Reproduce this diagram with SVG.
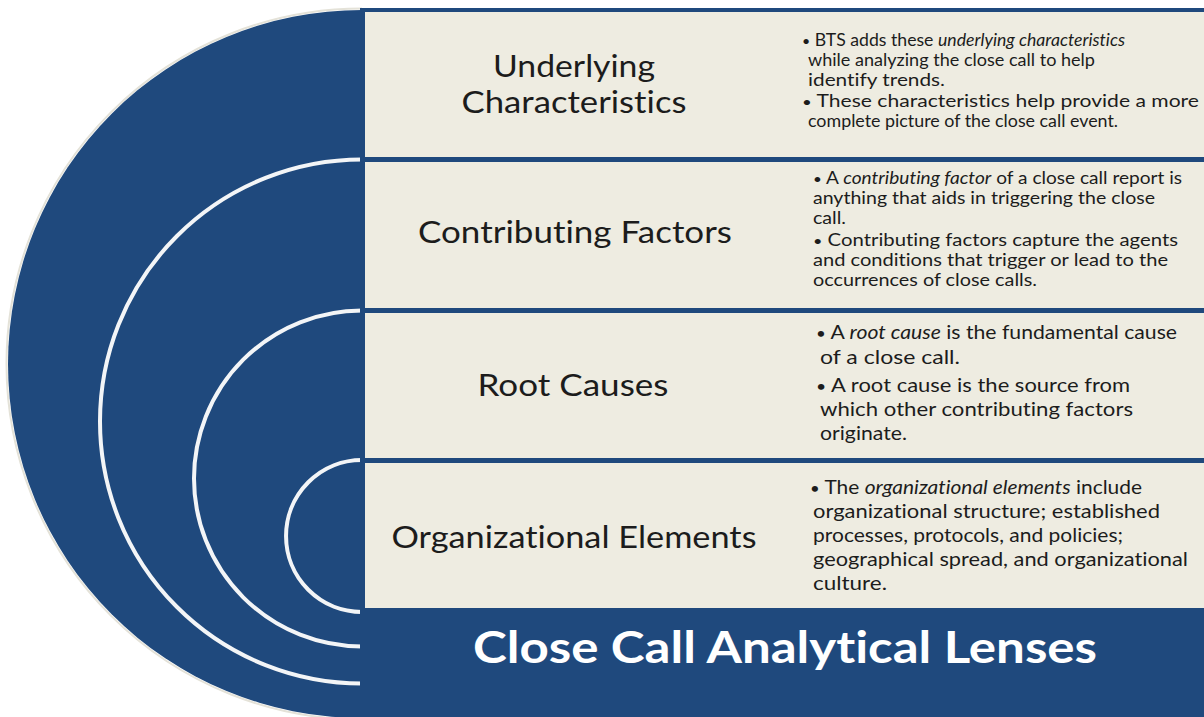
<svg xmlns="http://www.w3.org/2000/svg" width="1204" height="717" viewBox="0 0 1204 717">
  <style>
    text { font-variant-ligatures: none; font-feature-settings: "liga" 0, "dlig" 0; }
    .blue { fill: #1f497d; }
    .panel { fill: #eeece1; }
    .ring { fill: none; stroke: #f3f5f7; stroke-width: 4; }
    .head { font-family: Lato, "Liberation Sans", sans-serif; font-size: 30px; fill: #1c1c1c; text-anchor: middle; }
    .body { font-family: Lato, "Liberation Sans", sans-serif; fill: #1c1c1c; }
    .p1 { font-size: 16.8px; }
    .p2 { font-size: 17px; }
    .p3 { font-size: 20px; }
    .it { font-style: italic; }
    .dot { font-size: 0.8em; }
    .title { font-family: Lato, "Liberation Sans", sans-serif; font-weight: bold; font-size: 44px; fill: #ffffff; text-anchor: middle; }
  </style>

  <rect width="1204" height="717" fill="#ffffff"/>

  <!-- half disc with concentric rings -->
  <g id="lens-disc">
    <path d="M362,8.5 A355.5,355.5 0 0 0 362,719.5" fill="none" stroke="#e4e2d8" stroke-width="2"/>
    <path class="blue" d="M362,10 A354,354 0 0 0 362,718 L362,10 Z"/>
  </g>
  <g id="rings">
    <path class="ring" d="M362,159.5 A262,262 0 0 0 362,683.5"/>
    <path class="ring" d="M362,310.5 A168,168 0 0 0 362,646.5"/>
    <path class="ring" d="M362,460 A76,76 0 0 0 362,612"/>
  </g>

  <!-- frame behind the panels -->
  <rect class="blue" x="360" y="8" width="844" height="709"/>

  <g id="underlying-characteristics">
    <rect class="panel" x="365" y="12" width="839" height="145"/>
    <text class="head" x="574" y="77" textLength="162" lengthAdjust="spacingAndGlyphs">Underlying</text>
    <text class="head" x="574" y="113" textLength="225" lengthAdjust="spacingAndGlyphs">Characteristics</text>
    <g class="body p1">
      <text x="802" y="46" textLength="323" lengthAdjust="spacingAndGlyphs"><tspan class="dot">•</tspan> BTS adds these <tspan class="it">underlying characteristics</tspan></text>
      <text x="808" y="66" textLength="287" lengthAdjust="spacingAndGlyphs">while analyzing the close call to help</text>
      <text x="808" y="86" textLength="137" lengthAdjust="spacingAndGlyphs">identify trends.</text>
      <text x="802" y="107" textLength="397" lengthAdjust="spacingAndGlyphs"><tspan class="dot">•</tspan> These characteristics help provide a more</text>
      <text x="808" y="127" textLength="310" lengthAdjust="spacingAndGlyphs">complete picture of the close call event.</text>
    </g>
  </g>

  <g id="contributing-factors">
    <rect class="panel" x="365" y="162" width="839" height="146"/>
    <text class="head" x="575" y="243" textLength="314" lengthAdjust="spacingAndGlyphs">Contributing Factors</text>
    <g class="body p2">
      <text x="813" y="184" textLength="369" lengthAdjust="spacingAndGlyphs"><tspan class="dot">•</tspan> A <tspan class="it">contributing factor</tspan> of a close call report is</text>
      <text x="813" y="204" textLength="342" lengthAdjust="spacingAndGlyphs">anything that aids in triggering the close</text>
      <text x="813" y="224" textLength="33" lengthAdjust="spacingAndGlyphs">call.</text>
      <text x="813" y="246" textLength="365" lengthAdjust="spacingAndGlyphs"><tspan class="dot">•</tspan> Contributing factors capture the agents</text>
      <text x="813" y="266" textLength="355" lengthAdjust="spacingAndGlyphs">and conditions that trigger or lead to the</text>
      <text x="813" y="286" textLength="224" lengthAdjust="spacingAndGlyphs">occurrences of close calls.</text>
    </g>
  </g>

  <g id="root-causes">
    <rect class="panel" x="365" y="313" width="839" height="145"/>
    <text class="head" x="573" y="396" textLength="191" lengthAdjust="spacingAndGlyphs">Root Causes</text>
    <g class="body p3">
      <text x="816" y="339" textLength="361" lengthAdjust="spacingAndGlyphs"><tspan class="dot">•</tspan> A <tspan class="it">root cause</tspan> is the fundamental cause</text>
      <text x="820" y="364" textLength="140" lengthAdjust="spacingAndGlyphs">of a close call.</text>
      <text x="816" y="392" textLength="314" lengthAdjust="spacingAndGlyphs"><tspan class="dot">•</tspan> A root cause is the source from</text>
      <text x="820" y="416" textLength="313" lengthAdjust="spacingAndGlyphs">which other contributing factors</text>
      <text x="820" y="440" textLength="87" lengthAdjust="spacingAndGlyphs">originate.</text>
    </g>
  </g>

  <g id="organizational-elements">
    <rect class="panel" x="365" y="463" width="839" height="145"/>
    <text class="head" x="574" y="548" textLength="365" lengthAdjust="spacingAndGlyphs">Organizational Elements</text>
    <g class="body p3">
      <text x="810" y="494" textLength="332" lengthAdjust="spacingAndGlyphs"><tspan class="dot">•</tspan> The  <tspan class="it">organizational elements</tspan> include</text>
      <text x="813" y="518" textLength="347" lengthAdjust="spacingAndGlyphs">organizational structure; established</text>
      <text x="813" y="542" textLength="310" lengthAdjust="spacingAndGlyphs">processes, protocols, and policies;</text>
      <text x="813" y="566" textLength="375" lengthAdjust="spacingAndGlyphs">geographical spread, and organizational</text>
      <text x="813" y="590" textLength="74" lengthAdjust="spacingAndGlyphs">culture.</text>
    </g>
  </g>

  <g id="lens-title">
    <text class="title" x="785" y="663" textLength="624" lengthAdjust="spacingAndGlyphs">Close Call Analytical Lenses</text>
  </g>

  <g id="connectors"/>
</svg>
